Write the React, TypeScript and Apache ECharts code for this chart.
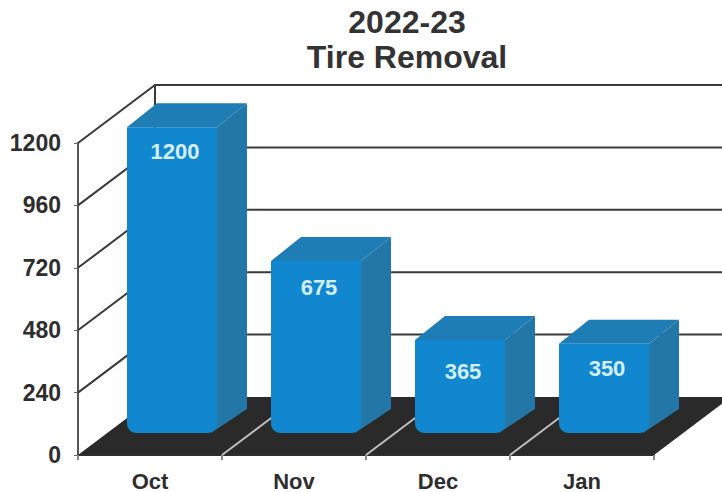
import React, { useEffect, useRef } from "react";
import * as echarts from "echarts";

const months = ["Oct", "Nov", "Dec", "Jan"];
const removals = [1200, 675, 365, 350];
const wallTicks = [240, 480, 720, 960, 1200];
const dividers = [1, 2, 3];

const DX = 77;
const DY = -58;
const INK = "#2e2e2e";

const lineStyle = { stroke: "#3a3a3a", lineWidth: 2, fill: "none" };

export default function App() {
  const ref = useRef<HTMLDivElement>(null);
  useEffect(() => {
    const chart = echarts.init(ref.current!, null, { renderer: "svg" });
    chart.setOption({
      animation: false,
      backgroundColor: "#ffffff",
      title: {
        text: "2022-23\nTire Removal",
        left: 402,
        top: -1,
        textAlign: "center",
        textStyle: {
          fontFamily: "Liberation Sans",
          fontWeight: "bold",
          fontSize: 32,
          lineHeight: 35,
          color: "#333333",
        },
      },
      grid: { left: 78, top: 143, width: 576, height: 312 },
      xAxis: {
        type: "category",
        data: months,
        axisLine: { show: true, lineStyle: { color: INK, width: 2 } },
        axisTick: { show: true, length: 5, lineStyle: { color: "#888888", width: 2 } },
        axisLabel: {
          fontFamily: "Liberation Sans",
          fontWeight: "bold",
          fontSize: 22,
          color: "#2e2e2e",
          margin: 15,
        },
        z: 3,
      },
      yAxis: {
        type: "value",
        min: 0,
        max: 1200,
        interval: 240,
        splitLine: { show: false },
        axisLine: { show: true, lineStyle: { color: "#555555", width: 2 } },
        axisTick: { show: true, length: 4, lineStyle: { color: "#666666", width: 1 } },
        axisLabel: {
          fontFamily: "Liberation Sans",
          fontWeight: "bold",
          fontSize: 23,
          color: "#2e2e2e",
          margin: 17,
          formatter: (v: number) => String(v),
        },
      },
      series: [
        {
          type: "custom",
          name: "walls",
          coordinateSystem: "cartesian2d",
          clip: false,
          silent: true,
          z: 1,
          data: wallTicks.map((v) => [0, v]),
          encode: { x: 0, y: 1 },
          renderItem: (params: any, api: any) => {
            const g = params.coordSys;
            const y = api.coord([0, api.value(1)])[1];
            const isTop = api.value(1) === 1200;
            const children: any[] = [
              {
                type: "polyline",
                shape: { points: [[g.x, y], [g.x + DX, y + DY], [722, y + DY]] },
                style: lineStyle,
              },
            ];
            if (isTop) {
              children.push({
                type: "line",
                shape: { x1: g.x + DX, y1: y + DY, x2: g.x + DX, y2: g.y + g.height + DY },
                style: lineStyle,
              });
            }
            return { type: "group", children };
          },
        },
        {
          type: "custom",
          name: "floor",
          coordinateSystem: "cartesian2d",
          clip: false,
          silent: true,
          z: 2,
          data: [[0, 0]],
          encode: { x: 0, y: 1 },
          renderItem: (params: any, api: any) => {
            const g = params.coordSys;
            const y = api.coord([0, 0])[1];
            const x0 = g.x;
            const x1 = g.x + g.width;
            return {
              type: "polygon",
              shape: {
                points: [[x0, y], [x0 + DX, y + DY], [x1 + DX, y + DY], [x1, y]],
              },
              style: { fill: "#2b2a2a" },
            };
          },
        },
        {
          type: "custom",
          name: "dividers",
          coordinateSystem: "cartesian2d",
          clip: false,
          silent: true,
          z: 4,
          data: dividers.map((d) => [d, 0]),
          encode: { x: 0, y: 1 },
          renderItem: (params: any, api: any) => {
            const g = params.coordSys;
            const band = g.width / months.length;
            const x = g.x + api.value(0) * band;
            const y = api.coord([0, 0])[1];
            return {
              type: "line",
              shape: { x1: x, y1: y, x2: x + DX, y2: y + DY },
              style: { stroke: "#bdbdbd", lineWidth: 2 },
            };
          },
        },
        {
          type: "custom",
          name: "Tire Removal",
          coordinateSystem: "cartesian2d",
          clip: false,
          z: 5,
          data: months.map((m, i) => [i, removals[i]]),
          encode: { x: 0, y: 1 },
          renderItem: (params: any, api: any) => {
            const val = api.value(1);
            const [cx, yv] = api.coord([api.value(0), val]);
            const y0 = api.coord([0, 0])[1];
            const w = 90;
            const dx = 30;
            const dy = -24;
            const left = cx + 22 - w / 2;
            const right = left + w;
            const base = y0 - 22;
            const top = base - (y0 - yv) * 0.98;
            const labelDrop = [24, 26, 32, 25][params.dataIndex];
            return {
              type: "group",
              children: [
                {
                  type: "polygon",
                  shape: {
                    points: [[right, top], [right + dx, top + dy], [right + dx, base + dy], [right - 6, base]],
                  },
                  style: { fill: "#2277a6" },
                },
                {
                  type: "polygon",
                  shape: {
                    points: [[left, top], [left + dx, top + dy], [right + dx, top + dy], [right, top]],
                  },
                  style: { fill: "#1f7db5" },
                },
                {
                  type: "rect",
                  shape: { x: left, y: top, width: w, height: base - top, r: [0, 0, 9, 9] },
                  style: { fill: "#1087cf" },
                },
                {
                  type: "text",
                  x: left + w / 2 + 3,
                  y: top + labelDrop,
                  style: {
                    text: String(val),
                    fontFamily: "Liberation Sans",
                    fontWeight: "bold",
                    fontSize: 22,
                    fill: "#d4effc",
                    align: "center",
                    verticalAlign: "middle",
                  },
                },
              ],
            };
          },
        },
      ],
    });
    return () => chart.dispose();
  }, []);
  return (
    <div
      ref={ref}
      style={{ position: "absolute", left: 0, top: 0, width: 722, height: 492 }}
    />
  );
}
